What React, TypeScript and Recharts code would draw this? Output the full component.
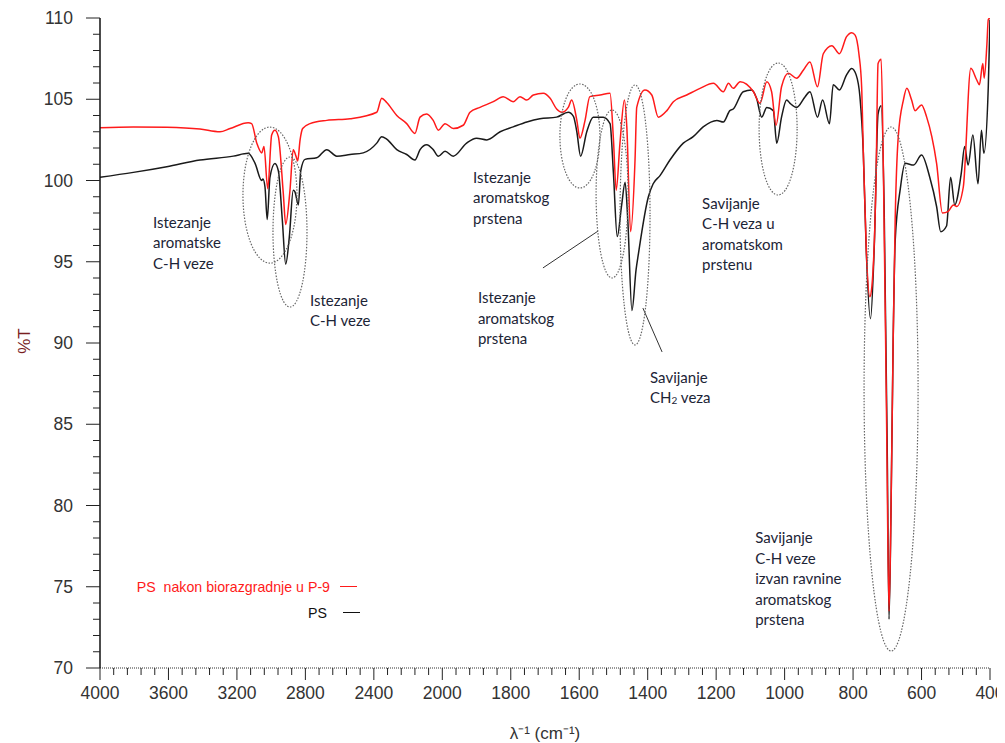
import React from "react";
import { LineChart, Line, XAxis, YAxis, ReferenceDot, ReferenceLine, Legend } from "recharts";

// split x axis: 4000-2000 cm-1 at 400 per division, 2000-400 at 200 per division
const toU = (wn: number) => (wn >= 2000 ? (4000 - wn) / 400 : 5 + (2000 - wn) / 200);

const xTickLabels = [4000, 3600, 3200, 2800, 2400, 2000, 1800, 1600, 1400, 1200, 1000, 800, 600, 400];
const yTickLabels = [70, 75, 80, 85, 90, 95, 100, 105, 110];

// [wavenumber, %T]
const psDegraded: [number, number][] = [
  [4000, 103.25], [3805, 103.3], [3610, 103.28], [3416, 103.17], [3299, 103.0], [3240, 103.2],
  [3134, 103.55], [3114, 103.5], [3084, 102.3], [3055, 101.7], [3042, 102.1], [3020, 99.5],
  [2997, 102.8], [2978, 103.1], [2958, 102.7], [2929, 99.2], [2915, 97.3], [2890, 99.4],
  [2871, 101.9], [2855, 101.5], [2845, 101.2], [2831, 102.5], [2816, 103.2], [2773, 103.5],
  [2675, 103.7], [2539, 103.8], [2383, 104.2], [2354, 105.06], [2325, 104.8], [2266, 104.0],
  [2208, 103.5], [2160, 102.9], [2130, 103.9], [2091, 104.1], [2053, 103.7], [2023, 103.1],
  [1992, 103.5], [1968, 103.2], [1939, 103.4], [1919, 104.2], [1890, 104.5], [1851, 104.85],
  [1822, 105.16], [1793, 104.85], [1773, 105.16], [1753, 104.95], [1734, 105.26], [1705, 105.37],
  [1685, 105.06], [1666, 104.4], [1651, 104.2], [1632, 104.5], [1622, 104.95], [1607, 103.7],
  [1598, 102.6], [1583, 103.7], [1569, 105.16], [1539, 105.26], [1510, 105.37], [1500, 102.5],
  [1492, 99.4], [1481, 102.3], [1468, 104.95], [1461, 103.3], [1450, 96.85], [1437, 101.26],
  [1432, 104.5], [1408, 105.57], [1388, 105.26], [1369, 103.9], [1344, 104.3], [1325, 104.85],
  [1286, 105.26], [1247, 105.67], [1208, 105.98], [1179, 105.46], [1164, 105.98], [1150, 105.67],
  [1130, 106.08], [1091, 105.46], [1072, 104.75], [1052, 106.08], [1038, 105.46], [1025, 103.4],
  [1009, 105.77], [989, 106.6], [965, 106.3], [945, 106.8], [926, 107.3], [904, 105.77],
  [887, 107.8], [862, 108.3], [840, 107.8], [819, 108.85], [804, 109.1], [794, 108.95],
  [783, 107.8], [775, 105.77], [770, 101.67], [761, 95.5], [751, 92.85], [745, 93.5],
  [733, 100.0], [727, 107.2], [718, 107.46], [711, 100.0], [702, 85.0], [695, 73.5],
  [689, 80.0], [683, 90.0], [677, 97.6], [668, 102.7], [653, 104.95], [643, 105.67],
  [629, 104.95], [619, 104.3], [600, 104.65], [585, 103.9], [570, 102.7], [556, 101.06],
  [539, 98.0], [522, 98.1], [507, 98.5], [497, 98.4], [478, 99.6], [456, 106.9],
  [439, 106.2], [431, 105.9], [421, 107.2], [417, 106.3], [409, 108.4], [405, 109.9], [400, 110],
];

const psPristine: [number, number][] = [
  [4000, 100.2], [3805, 100.5], [3610, 100.85], [3416, 101.26], [3221, 101.5], [3134, 101.67],
  [3094, 101.05], [3055, 100.0], [3048, 100.1], [3036, 99.6], [3023, 97.6], [3007, 100.2],
  [2978, 101.05], [2958, 100.6], [2935, 97.6], [2915, 94.85], [2894, 96.5], [2871, 99.4],
  [2861, 99.3], [2841, 98.5], [2827, 100.6], [2802, 101.3], [2734, 101.4], [2675, 101.9],
  [2617, 101.5], [2539, 101.6], [2462, 101.7], [2383, 102.3], [2354, 102.7], [2325, 102.55],
  [2266, 101.9], [2208, 101.6], [2160, 101.26], [2130, 101.9], [2091, 102.2], [2053, 101.9],
  [2023, 101.5], [1992, 101.8], [1968, 101.5], [1929, 102.3], [1900, 102.6], [1870, 102.5],
  [1831, 103.0], [1793, 103.3], [1753, 103.6], [1715, 103.8], [1666, 103.9], [1632, 104.2],
  [1617, 103.95], [1607, 103.0], [1596, 101.5], [1578, 103.0], [1559, 103.9], [1530, 103.9],
  [1510, 103.5], [1500, 100.4], [1489, 96.55], [1476, 98.5], [1466, 99.9], [1458, 97.5],
  [1446, 92.0], [1434, 94.5], [1427, 95.5], [1398, 99.0], [1384, 99.8], [1364, 100.3],
  [1335, 101.26], [1296, 102.3], [1267, 102.7], [1238, 103.3], [1198, 103.7], [1179, 103.6],
  [1160, 104.3], [1150, 104.4], [1121, 105.46], [1096, 105.57], [1082, 105.06], [1067, 103.9],
  [1052, 104.5], [1033, 104.3], [1023, 102.3], [1009, 103.9], [994, 104.95], [984, 104.75],
  [965, 104.5], [940, 105.16], [926, 105.46], [904, 103.9], [889, 104.95], [869, 103.5],
  [858, 105.9], [840, 105.57], [819, 106.5], [804, 106.9], [791, 106.5], [780, 105.16],
  [770, 101.67], [762, 96.0], [749, 91.5], [738, 96.0], [727, 104.1], [718, 104.6],
  [709, 98.0], [700, 83.0], [695, 73.0], [689, 80.0], [683, 90.0], [677, 96.3],
  [662, 99.5], [648, 101.06], [623, 100.95], [600, 101.57], [576, 100.2], [556, 98.4],
  [544, 96.85], [527, 97.2], [515, 100.2], [503, 98.5], [484, 100.44], [474, 102.1],
  [464, 100.95], [450, 102.8], [435, 99.8], [425, 103.1], [418, 101.67], [405, 105.77], [400, 109.9],
];

const degradedRows = psDegraded.map(([wn, t]) => ({ u: toU(wn), t }));
const pristineRows = psPristine.map(([wn, t]) => ({ u: toU(wn), t }));

// minor ticks: 5 per division on both axes
const xTicks = Array.from({ length: (xTickLabels.length - 1) * 5 + 1 }, (_, i) => i / 5);
const yTicks = Array.from({ length: 41 }, (_, i) => 70 + i);

const bandNotes = [
  { wn: 3690, t: 97.45, lines: ["Istezanje", "aromatske", "C-H veze"] },
  { wn: 2773, t: 92.65, lines: ["Istezanje", "C-H veze"] },
  { wn: 1910, t: 100.22, lines: ["Istezanje", "aromatskog", "prstena"] },
  { wn: 1896, t: 92.83, lines: ["Istezanje", "aromatskog", "prstena"] },
  { wn: 1241, t: 98.62, lines: ["Savijanje", "C-H veza u", "aromatskom", "prstenu"] },
  { wn: 1086, t: 78.06, lines: ["Savijanje", "C-H veze", "izvan ravnine", "aromatskog", "prstena"] },
];

const bandRings = [
  { wn: 3007, t: 99.1, rx: 27, ry: 68 },
  { wn: 2890, t: 96.83, rx: 17, ry: 75 },
  { wn: 1598, t: 102.74, rx: 20, ry: 52 },
  { wn: 1504, t: 99.17, rx: 16, ry: 84 },
  { wn: 1437, t: 97.88, rx: 15, ry: 130 },
  { wn: 1019, t: 103.17, rx: 19, ry: 66 },
  { wn: 689, t: 87.17, rx: 27, ry: 262 },
];

const leaders = [
  [[1706, 94.62], [1545, 96.89]],
  [[1414, 92.15], [1358, 89.45]],
];

const noteFont = "Lato, 'Open Sans', sans-serif";
const noteColor = "#1c2436";
const axisFont = "'Liberation Sans', Arial, sans-serif";

const XTick = ({ x, y, payload }: any) => {
  const v = payload.value;
  const i = Math.round(v);
  const major = Math.abs(v - i) < 1e-6;
  return (
    <g>
      <line x1={x} x2={x} y1={y} y2={y + (major ? 12 : 7)} stroke="#222" />
      {major && (
        <text x={x} y={y + 25} textAnchor="middle" dominantBaseline="central" fontFamily={axisFont} fontSize={17.5} fill="#333">
          {xTickLabels[i]}
        </text>
      )}
    </g>
  );
};

const YTick = ({ x, y, payload }: any) => {
  const v = payload.value;
  const major = yTickLabels.includes(v);
  return (
    <g>
      <line x1={x - (major ? 14 : 7)} x2={x} y1={y} y2={y} stroke="#222" />
      {major && (
        <text x={x - 27} y={y} textAnchor="end" dominantBaseline="central" fontFamily={axisFont} fontSize={17.5} fill="#333">
          {v}
        </text>
      )}
    </g>
  );
};

const Note = ({ cx, cy, lines }: any) => (
  <text x={cx} y={cy} fontFamily={noteFont} fontSize={15} fill={noteColor} dominantBaseline="central">
    {lines.map((s: string, i: number) => (
      <tspan key={i} x={cx} dy={i === 0 ? 0 : 20.5}>
        {s}
      </tspan>
    ))}
  </text>
);

const Ch2Note = ({ cx, cy }: any) => (
  <text x={cx} y={cy} fontFamily={noteFont} fontSize={15} fill={noteColor} dominantBaseline="central">
    <tspan x={cx}>Savijanje</tspan>
    <tspan x={cx} dy={20.5}>CH</tspan>
    <tspan fontSize={10} dy={3}>2</tspan>
    <tspan dy={-3}> veza</tspan>
  </text>
);

const LegendBox = () => (
  <div style={{ fontFamily: axisFont, fontSize: 14.2, textAlign: "right", lineHeight: "26px" }}>
    <div style={{ color: "#ff1a1a" }}>
      PS&nbsp; nakon biorazgradnje u P-9
      <span style={{ display: "inline-block", width: 17, borderTop: "1.5px solid #ff1a1a", margin: "0 3px 5px 10px" }} />
    </div>
    <div style={{ color: "#111" }}>
      PS
      <span style={{ display: "inline-block", width: 17, borderTop: "1.5px solid #111", margin: "0 0 5px 16px" }} />
    </div>
  </div>
);

export default function App() {
  return (
    <LineChart width={997} height={735} margin={{ top: 10, right: 15, bottom: 0, left: 0 }}>
      <XAxis
        dataKey="u"
        type="number"
        domain={[0, 13]}
        ticks={xTicks}
        interval={0}
        tick={<XTick />}
        tickLine={false}
        tickSize={0}
        tickMargin={0}
        height={75}
        axisLine={{ stroke: "#777", strokeDasharray: "1 1", strokeWidth: 1.5 }}
        allowDataOverflow
        label={{
          content: ({ viewBox }: any) => (
            <text x={viewBox.x + viewBox.width / 2} y={viewBox.y + 65} textAnchor="middle" dominantBaseline="central" fontFamily={axisFont} fontSize={17} fill="#333">
              λ⁻¹ (cm⁻¹)
            </text>
          ),
        }}
      />
      <XAxis xAxisId="top" orientation="top" type="number" domain={[0, 13]} height={0} tick={false} tickLine={false} axisLine={{ stroke: "#888", strokeDasharray: "1 1" }} />
      <YAxis
        type="number"
        domain={[70, 110]}
        ticks={yTicks}
        interval={0}
        tick={<YTick />}
        tickLine={false}
        tickSize={0}
        tickMargin={0}
        width={92}
        axisLine={{ stroke: "#111", strokeWidth: 1.5 }}
        allowDataOverflow
        label={{
          content: ({ viewBox }: any) => (
            <text x={16} y={viewBox.y + viewBox.height / 2 - 2} textAnchor="middle" dominantBaseline="central" transform={`rotate(-90 16 ${viewBox.y + viewBox.height / 2 - 2})`} fontFamily={axisFont} fontSize={17} fill="#7a1f1f">
              %T
            </text>
          ),
        }}
      />
      <YAxis yAxisId="right" orientation="right" type="number" domain={[70, 110]} width={0} tick={false} tickLine={false} axisLine={{ stroke: "#111", strokeWidth: 1.5 }} />
      <Legend verticalAlign="middle" align="center" layout="horizontal" content={<LegendBox />} wrapperStyle={{ left: 0, top: 566, width: 352 }} />
      {bandRings.map((r, i) => (
        <ReferenceDot
          key={`ring${i}`}
          x={toU(r.wn)}
          y={r.t}
          r={0}
          ifOverflow="visible"
          shape={(p: any) => <ellipse cx={p.cx} cy={p.cy} rx={r.rx} ry={r.ry} fill="none" stroke="#666" strokeWidth={1.2} strokeDasharray="1.5 1.5" />}
        />
      ))}
      {leaders.map((seg, i) => (
        <ReferenceLine
          key={`lead${i}`}
          segment={seg.map(([wn, t]) => ({ x: toU(wn), y: t }))}
          stroke="#333"
          strokeWidth={1}
          ifOverflow="visible"
        />
      ))}
      <Line data={pristineRows} dataKey="t" name="PS" stroke="#1a1a1a" strokeWidth={1.5} dot={false} isAnimationActive={false} type="monotoneX" />
      <Line data={degradedRows} dataKey="t" name="PS nakon biorazgradnje u P-9" stroke="#ff1a1a" strokeWidth={1.5} dot={false} isAnimationActive={false} type="monotoneX" />
      {bandNotes.map((n, i) => (
        <ReferenceDot key={`note${i}`} x={toU(n.wn)} y={n.t} r={0} ifOverflow="visible" shape={(p: any) => <Note cx={p.cx} cy={p.cy} lines={n.lines} />} />
      ))}
      <ReferenceDot x={toU(1393)} y={87.91} r={0} ifOverflow="visible" shape={(p: any) => <Ch2Note cx={p.cx} cy={p.cy} />} />
    </LineChart>
  );
}
